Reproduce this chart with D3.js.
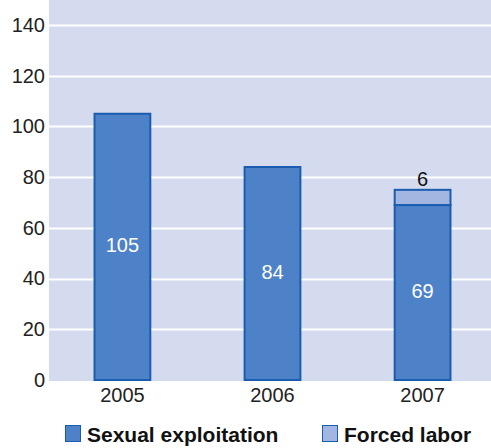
<!DOCTYPE html>
<html>
<head>
<meta charset="utf-8">
<script src="https://cdn.jsdelivr.net/npm/d3@7"></script>
<style>
  html, body { margin: 0; padding: 0; background: #ffffff; }
  svg { display: block; font-family: "Liberation Sans", Arial, sans-serif; }
</style>
</head>
<body>
<svg id="chart" width="491" height="448"></svg>
<script>
const years = ["2005", "2006", "2007"];
const sexualExploitation = [105, 84, 69];
const forcedLabor = [0, 0, 6];
const yTicks = [0, 20, 40, 60, 80, 100, 120, 140];
const seriesNames = ["Sexual exploitation", "Forced labor"];
const seriesColors = ["#4d81c8", "#a1b7e1"];

const svg = d3.select("#chart");
const plot = { left: 49, right: 491, top: 0, bottom: 381 };

const x = d3.scaleBand().domain(years).range([47, 498]).paddingInner(0.615).paddingOuter(0.31);
const y = d3.scaleLinear().domain([0, 140]).range([380, 25]);

// background
svg.append("rect")
  .attr("x", plot.left).attr("y", plot.top)
  .attr("width", plot.right - plot.left).attr("height", plot.bottom - plot.top)
  .attr("fill", "#d5dbee");

// gridlines
svg.append("g").selectAll("line").data(yTicks.filter(d => d > 0)).join("line")
  .attr("x1", plot.left).attr("x2", plot.right)
  .attr("y1", d => Math.round(y(d)) + 0.5).attr("y2", d => Math.round(y(d)) + 0.5)
  .attr("stroke", "#ffffff").attr("stroke-width", 2);

// y axis labels
const yAxis = d3.axisLeft(y).tickValues(yTicks).tickSize(0).tickPadding(0);
const gy = svg.append("g").attr("transform", "translate(45,0)").call(yAxis);
gy.select(".domain").remove();
gy.selectAll("text").attr("font-size", 20).attr("fill", "#222").attr("font-family", "Liberation Sans, Arial, sans-serif");

// x axis labels
const xAxis = d3.axisBottom(x).tickSize(0).tickPadding(0);
const gx = svg.append("g").attr("transform", "translate(0,388)").call(xAxis);
gx.select(".domain").remove();
gx.selectAll("text").attr("font-size", 20).attr("fill", "#222").attr("font-family", "Liberation Sans, Arial, sans-serif").attr("dy", "0.71em");

// stacked data
const data = years.map((yr, i) => ({ year: yr, se: sexualExploitation[i], fl: forcedLabor[i] }));
const stack = d3.stack().keys(["se", "fl"])(data);

const gBars = svg.append("g");
stack.forEach((layer, li) => {
  gBars.append("g").selectAll("rect").data(layer.filter(d => d[1] > d[0])).join("rect")
    .attr("x", d => x(d.data.year) + 1)
    .attr("y", d => y(d[1]))
    .attr("width", x.bandwidth() - 2)
    .attr("height", d => y(d[0]) - y(d[1]))
    .attr("fill", seriesColors[li])
    .attr("stroke", "#1a5cb0")
    .attr("stroke-width", 2);
});

// value labels inside (sexual exploitation)
svg.append("g").selectAll("text").data(stack[0]).join("text")
  .attr("x", d => x(d.data.year) + x.bandwidth() / 2)
  .attr("y", d => (y(d[0]) + y(d[1])) / 2 - 2)
  .attr("text-anchor", "middle")
  .attr("dominant-baseline", "central")
  .attr("font-size", 20)
  .attr("fill", "#ffffff")
  .text(d => d.data.se);

// forced labor labels above
svg.append("g").selectAll("text").data(stack[1].filter(d => d[1] > d[0])).join("text")
  .attr("x", d => x(d.data.year) + x.bandwidth() / 2)
  .attr("y", d => y(d[1]) - 4)
  .attr("text-anchor", "middle")
  .attr("font-size", 20)
  .attr("fill", "#111")
  .text(d => d.data.fl);

// legend
const legendX = [65, 322];
const lg = svg.append("g");
seriesNames.forEach((name, i) => {
  lg.append("rect")
    .attr("x", legendX[i] + 0.5).attr("y", 425.5)
    .attr("width", 15).attr("height", 16)
    .attr("fill", seriesColors[i])
    .attr("stroke", "#1a5cb0").attr("stroke-width", 1);
  lg.append("text")
    .attr("x", legendX[i] + 22).attr("y", 442)
    .attr("font-size", 21).attr("font-weight", "bold").attr("fill", "#111")
    .text(name);
});
</script>
</body>
</html>
